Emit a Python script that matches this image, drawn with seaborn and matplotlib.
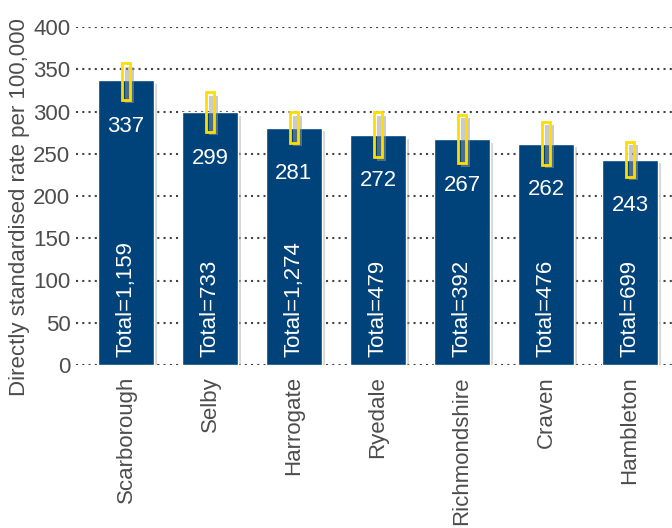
import matplotlib
matplotlib.use("Agg")
import matplotlib.pyplot as plt
import matplotlib.patheffects as pe
import numpy as np
import seaborn as sns

# data
districts = ["Scarborough", "Selby", "Harrogate", "Ryedale", "Richmondshire", "Craven", "Hambleton"]
rates = [337, 299, 281, 272, 267, 262, 243]
ci_low = [314, 276, 263, 246, 239, 237, 223]
ci_high = [357, 323, 299, 299, 296, 288, 264]
totals = ["1,159", "733", "1,274", "479", "392", "476", "699"]

navy = "#00427a"
yellow = "#ffdd00"
grey_txt = "#4d4d4d"

sns.set_style("white")
plt.rcParams["font.family"] = ["Liberation Sans", "DejaVu Sans"]

fig = plt.figure(figsize=(6.72, 5.28), dpi=100)
ax = fig.add_axes([76 / 672, (528 - 365) / 528, 1 - 76 / 672, (365 - 27) / 528])

shadow = [pe.SimplePatchShadow(offset=(2.5, -2.5), shadow_rgbFace="#999999", alpha=0.4), pe.Normal()]

sns.barplot(x=districts, y=rates, color=navy, saturation=1, width=0.667, ax=ax, zorder=3)
for p in ax.patches:
    p.set_path_effects(shadow)

# confidence intervals as hollow yellow boxes
x = np.arange(len(districts))
boxes = ax.bar(x, np.array(ci_high) - np.array(ci_low), bottom=ci_low, width=0.1,
               fill=False, edgecolor=yellow, linewidth=2, zorder=4)
for b in boxes:
    b.set_path_effects([pe.SimplePatchShadow(offset=(2.5, -2.5), shadow_rgbFace="#999999", alpha=0.5), pe.Normal()])

for i, (r, t) in enumerate(zip(rates, totals)):
    ax.annotate(str(r), (i, r), xytext=(0, -33), textcoords="offset points",
                ha="center", va="center", color="white", fontsize=16, zorder=5)
    ax.annotate("Total=" + t, (i, 0), xytext=(0, 6), textcoords="offset points",
                ha="center", va="bottom", rotation=90, color="white", fontsize=16, zorder=5)

ax.set_ylim(0, 400)
ax.set_xlim(-0.595, 6.5)
ax.set_yticks(range(0, 401, 50))
ax.yaxis.grid(True, color="#444444", linestyle=(0, (1, 2)), linewidth=1.5, zorder=0)
ax.set_axisbelow(True)
for s in ax.spines.values():
    s.set_visible(False)
ax.tick_params(axis="both", length=0, labelsize=16, colors=grey_txt)
ax.tick_params(axis="y", pad=4)
ax.tick_params(axis="x", pad=8)
plt.setp(ax.get_xticklabels(), rotation=90)
ax.set_xlabel("")
ax.set_ylabel("Directly standardised rate per 100,000", fontsize=16, color=grey_txt)
ax.yaxis.set_label_coords(-0.078, 0.467)

fig.savefig("out.png", dpi=100)
